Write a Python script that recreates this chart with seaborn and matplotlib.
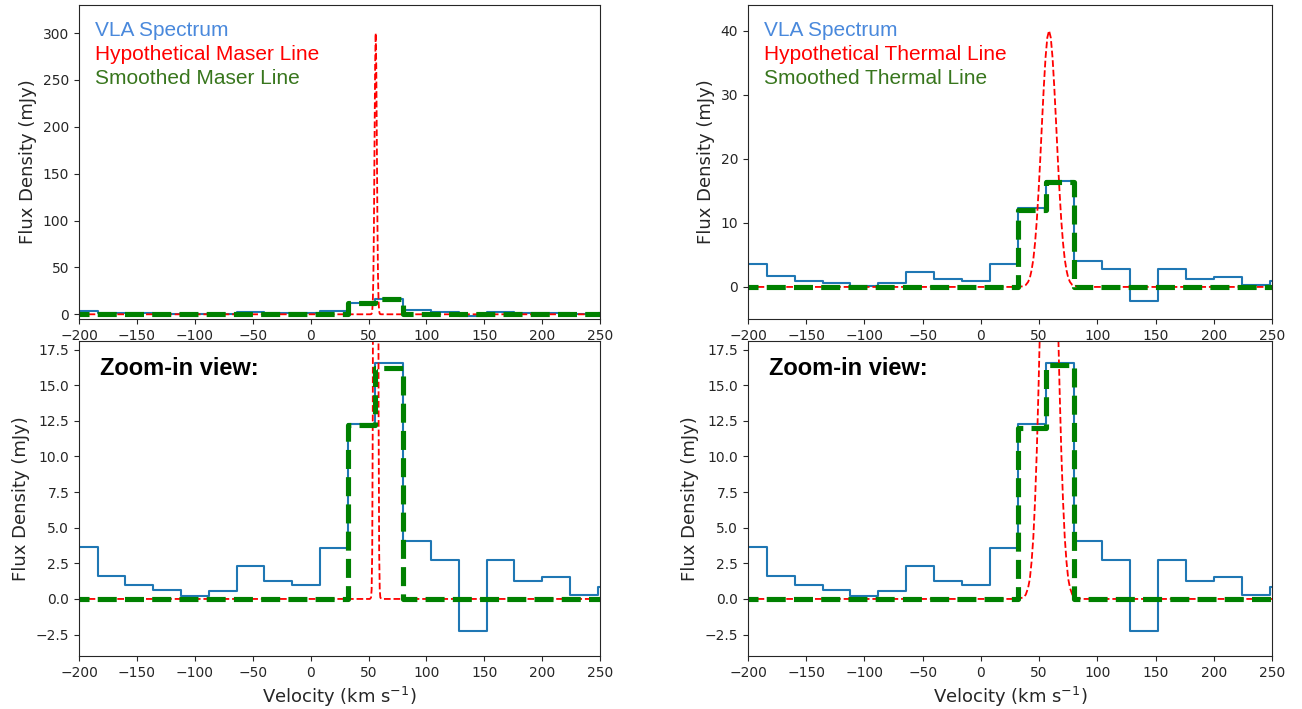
import numpy as np
import pandas as pd
import matplotlib
matplotlib.use('Agg')
import matplotlib.pyplot as plt
from matplotlib import font_manager
import seaborn as sns

# channel edges of the VLA spectrum (km/s) and flux per channel (mJy)
chan_edges = [-208, -184, -160, -136, -112, -88, -64, -40, -16, 8, 32,
              56, 80, 104, 128, 152, 176, 200, 224, 248, 272]
vla_flux = [3.63, 1.64, 0.98, 0.63, 0.19, 0.59, 2.34, 1.29, 0.98, 3.56,
            12.25, 16.53, 4.05, 2.76, -2.27, 2.76, 1.29, 1.52, 0.28, 0.87]

# smoothed model lines on the same channels
maser_smooth = [0, 0, 0, 0, 0, 0, 0, 0, 0, 0,
                12.2, 16.2, 0, 0, 0, 0, 0, 0, 0, 0]
thermal_smooth = [0, 0, 0, 0, 0, 0, 0, 0, 0, 0,
                  12.0, 16.4, 0, 0, 0, 0, 0, 0, 0, 0]

# hypothetical lines
maser_v = [-200, 51.2, 52.2, 52.7, 53.2, 53.7, 54.2, 54.7, 55.2, 55.7, 56.2,
           56.7, 57.2, 57.7, 58.2, 58.7, 59.2, 59.7, 60.2, 61.2, 250]
maser_f = [0, 0, 0.1, 0.66, 3.3, 13.2, 40.6, 97.4, 182, 264.7, 300,
           264.7, 182, 97.4, 40.6, 13.2, 3.3, 0.66, 0.1, 0, 0]

thermal_v = [-200, 30, 36.5, 38.5, 40.5, 42, 43.5, 45, 46.5, 48, 49.5, 51,
             52.5, 54, 55.5, 57, 58.5, 60, 61.5, 63, 64.5, 66, 67.5, 69,
             70.5, 72, 73.5, 75, 76.5, 78.5, 80.5, 87, 250]
thermal_f = [0, 0, 0.1, 0.3, 0.77, 1.4, 2.6, 4.3, 6.9, 10.4, 14.9, 20.1,
             25.8, 31.2, 35.8, 38.9, 40, 38.9, 35.8, 31.2, 25.8, 20.1, 14.9,
             10.4, 6.9, 4.3, 2.6, 1.4, 0.77, 0.3, 0.1, 0, 0]

sns.set_style('ticks')
plt.rcParams['font.family'] = ['DejaVu Sans']

# bold Arial-like face for the "Zoom-in view" note
bold_files = [f for f in font_manager.findSystemFonts()
              if f.endswith('LiberationSans-Bold.ttf')]
if bold_files:
    zoom_font = font_manager.FontProperties(fname=bold_files[0], size=17)
else:
    zoom_font = font_manager.FontProperties(family='Roboto', weight='bold',
                                            size=17)

fig = plt.figure(figsize=(13.02, 7.09), dpi=100)
ax_tl = fig.add_axes([0.0607, 0.5501, 0.4002, 0.4429])
ax_bl = fig.add_axes([0.0607, 0.0748, 0.4002, 0.4443])
ax_tr = fig.add_axes([0.5745, 0.5501, 0.4025, 0.4429])
ax_br = fig.add_axes([0.5745, 0.0748, 0.4025, 0.4443])


def draw(ax, smooth, line_v, line_f):
    sns.lineplot(x=chan_edges, y=vla_flux + [vla_flux[-1]], ax=ax,
                 drawstyle='steps-post', color='#1f77b4', lw=1.5,
                 estimator=None)
    sns.lineplot(x=line_v, y=line_f, ax=ax, color='red', lw=1.3,
                 linestyle='--', estimator=None)
    sns.lineplot(x=chan_edges, y=smooth + [smooth[-1]], ax=ax,
                 drawstyle='steps-post', color='green', lw=3.7,
                 linestyle='--', estimator=None)
    ax.set_xlim(-200, 250)
    ax.set_xticks([-200, -150, -100, -50, 0, 50, 100, 150, 200, 250])
    ax.set_ylabel('Flux Density (mJy)', fontsize=13)
    ax.tick_params(labelsize=10)


draw(ax_tl, maser_smooth, maser_v, maser_f)
draw(ax_bl, maser_smooth, maser_v, maser_f)
draw(ax_tr, thermal_smooth, thermal_v, thermal_f)
draw(ax_br, thermal_smooth, thermal_v, thermal_f)

ax_tl.set_ylim(-5, 330)
ax_tl.set_yticks([0, 50, 100, 150, 200, 250, 300])
ax_tr.set_ylim(-5, 44)
ax_tr.set_yticks([0, 10, 20, 30, 40])
for ax in (ax_bl, ax_br):
    ax.set_ylim(-4, 18.1)
    ax.set_yticks([-2.5, 0, 2.5, 5, 7.5, 10, 12.5, 15, 17.5])
    ax.set_xlabel('Velocity (km s$^{-1}$)', fontsize=13)
    ax.text(0.04, 0.912, 'Zoom-in view:', transform=ax.transAxes,
            fontproperties=zoom_font, color='black', va='center')

labels = {ax_tl: 'Maser', ax_tr: 'Thermal'}
for ax, kind in labels.items():
    ax.text(0.031, 0.918, 'VLA Spectrum', transform=ax.transAxes,
            color='#4a89dc', fontsize=15, family='Liberation Sans', va='center')
    ax.text(0.031, 0.841, 'Hypothetical ' + kind + ' Line',
            transform=ax.transAxes, color='#ff0000', fontsize=15,
            family='Liberation Sans', va='center')
    ax.text(0.031, 0.765, 'Smoothed ' + kind + ' Line',
            transform=ax.transAxes, color='#38761d', fontsize=15,
            family='Liberation Sans', va='center')

plt.savefig('out.png', dpi=100)
